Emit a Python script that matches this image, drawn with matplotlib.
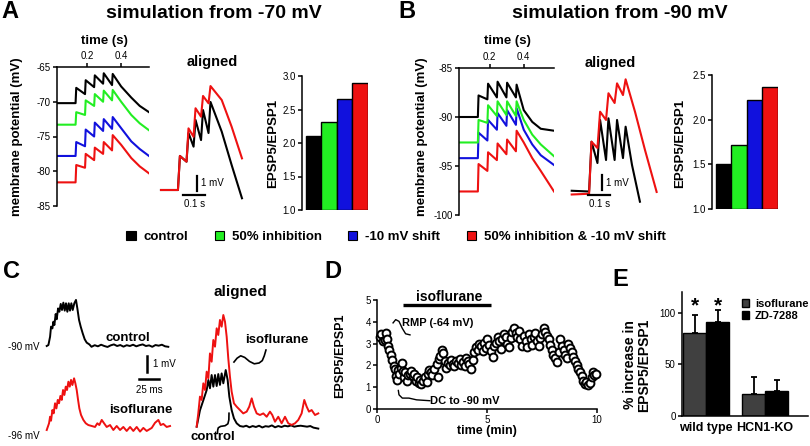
import numpy as np
import matplotlib
matplotlib.use('Agg')
import matplotlib.pyplot as plt
from matplotlib.patches import Patch

plt.rcParams['font.family'] = ['Liberation Sans', 'DejaVu Sans']
plt.rcParams['axes.linewidth'] = 1.1
plt.rcParams['xtick.major.width'] = 1.1
plt.rcParams['ytick.major.width'] = 1.1
plt.rcParams['xtick.major.size'] = 3
plt.rcParams['ytick.major.size'] = 3
plt.rcParams['xtick.labelsize'] = 7
plt.rcParams['ytick.labelsize'] = 7
plt.rcParams['xtick.major.pad'] = 1.5
plt.rcParams['ytick.major.pad'] = 1.5

# ---- data ----
conditions = ['control', '50% inhibition', '-10 mV shift', '50% inhibition & -10 mV shift']
cond_colors = ['#000000', '#22ee22', '#1111dd', '#ee1111']

# simulation from -70 mV (A): stimulus times (s), baseline, peaks, troughs, tail
sim_a_pulses = [0.13, 0.186, 0.24, 0.293, 0.346]
sim_a_base = [-70.2, -73.3, -77.8, -81.6]
sim_a_peaks = [[-68.0, -66.9, -66.2, -65.9, -66.0],
               [-71.5, -69.8, -68.9, -68.4, -68.3],
               [-75.8, -74.0, -73.0, -72.5, -72.2],
               [-79.1, -77.5, -76.6, -75.8, -74.8]]
sim_a_troughs = [[-68.9, -67.9, -67.4, -67.6],
                 [-71.9, -70.6, -70.0, -69.8],
                 [-76.4, -75.0, -74.2, -73.9],
                 [-79.5, -78.4, -77.5, -77.0]]
sim_a_tail_t = [0.40, 0.46, 0.51, 0.565]
sim_a_tails = [[-67.8, -69.4, -70.6, -71.5],
               [-70.0, -71.9, -73.1, -74.1],
               [-73.8, -75.7, -76.8, -77.8],
               [-76.2, -78.1, -79.3, -80.3]]

# simulation from -90 mV (B)
sim_b_pulses = [0.13, 0.186, 0.242, 0.298, 0.354]
sim_b_base = [-90.0, -92.6, -94.2, -97.6]
sim_b_peaks = [[-87.8, -86.6, -86.4, -86.5, -86.7],
               [-90.3, -88.8, -88.4, -88.4, -88.4],
               [-91.6, -90.3, -89.6, -89.3, -89.1],
               [-94.8, -93.6, -92.7, -92.3, -91.4]]
sim_b_troughs = [[-88.2, -88.0, -88.0, -88.0],
                 [-90.6, -89.9, -89.8, -89.9],
                 [-92.4, -91.3, -90.9, -90.8],
                 [-95.5, -94.4, -93.8, -93.5]]
sim_b_tail_t = [0.40, 0.45, 0.50, 0.578]
sim_b_tails = [[-89.3, -90.5, -91.2, -91.4],
               [-90.3, -91.8, -92.8, -94.0],
               [-91.3, -92.8, -93.9, -94.9],
               [-92.6, -94.2, -95.5, -97.6]]

# aligned traces (s, mV re baseline)
al_a_t = [0, 0.077, 0.086, 0.116, 0.125, 0.148, 0.157, 0.182, 0.191, 0.216, 0.225, 0.276, 0.321, 0.368]
al_a_ctrl = [0, 0, 2.27, 1.89, 3.8, 2.89, 4.67, 3.33, 5.33, 3.8, 5.87, 3.89, 1.67, -0.55]
al_a_both = [0, 0, 2.27, 1.89, 4.11, 3.55, 5.45, 4.89, 6.27, 5.78, 6.93, 6.0, 4.22, 2.11]
al_b_t_ctrl = [0, 0.079, 0.09, 0.117, 0.129, 0.156, 0.167, 0.195, 0.206, 0.233, 0.245, 0.274, 0.31]
al_b_ctrl = [0.15, 0.1, 3.42, 2.0, 4.87, 2.2, 4.98, 2.2, 4.87, 2.33, 4.42, 1.87, -0.58]
al_b_t_both = [0, 0.079, 0.09, 0.117, 0.129, 0.156, 0.167, 0.195, 0.206, 0.233, 0.245, 0.288, 0.333, 0.386]
al_b_both = [-0.1, -0.05, 3.42, 3.0, 5.42, 4.87, 6.65, 6.0, 7.31, 6.53, 7.58, 5.4, 2.87, 0.07]

ratio_a = [2.1, 2.32, 2.65, 2.9]
ratio_b = [1.5, 1.72, 2.22, 2.37]

# C: recorded traces (ms, mV re baseline)
c_ctrl = [(0, 0), (2.1, 0.06), (4.2, 0.58), (5.4, 1.21), (7.1, 1.1), (8.3, 1.52), (9.6, 1.31),
          (11.2, 2.0), (12.5, 1.67), (14.2, 2.35), (15.8, 2.14), (17.5, 2.63), (19.1, 2.25),
          (20.8, 2.71), (22.5, 2.21), (24.1, 2.67), (25.8, 2.14), (27.5, 2.67), (29.1, 2.21),
          (30.8, 2.67), (32.5, 2.25), (34.5, 2.67), (36.6, 2.88), (38.3, 2.35), (40.4, 1.63),
          (42.5, 1.21), (45, 0.79), (47.5, 0.42), (50, 0.21), (53.3, 0.1), (56, -0.05),
          (60, 0.05), (64, -0.02), (68, 0.08), (72, 0.0), (76, -0.06), (80, 0.04), (84, 0.1),
          (88, 0.0), (92, 0.06), (96, -0.04), (100, 0.05), (104, 0.0), (108, 0.08), (112, -0.02),
          (116, 0.05), (120, 0.1), (124, 0.0), (128, 0.04), (132, -0.05), (136, 0.06),
          (140, 0.02), (144, 0.08), (148, -0.02), (152, -0.05)]
c_iso = [(0, 0), (2.9, 0.42), (4.2, 0.83), (5.4, 0.58), (7.1, 1.25), (8.7, 1.04), (10.4, 1.67),
         (12.1, 1.35), (13.8, 1.88), (15.4, 1.67), (17.1, 2.13), (18.8, 1.88), (20.4, 2.5),
         (22.1, 2.19), (23.8, 2.71), (25.4, 2.5), (27.1, 3.02), (28.8, 2.71), (30.4, 3.13),
         (32.1, 2.81), (34.2, 3.23), (35.8, 2.92), (37.5, 2.5), (39.2, 1.88), (40.8, 1.35),
         (42.9, 0.94), (45.8, 0.63), (48.8, 0.42), (52, 0.31), (56.3, 0.25), (60.4, 0.19),
         (63.3, 0.42), (65.8, 0.31), (68.8, 0.63), (71.7, 0.42), (75, 0.19), (79.2, 0.31),
         (83.3, 0.0), (87.5, 0.25), (91.7, 0.0), (95.8, 0.19), (100, -0.06), (104.2, 0.19),
         (108.3, -0.06), (112.5, 0.19), (116.7, -0.1), (120.8, 0.13), (125, -0.06),
         (131.3, 0.13), (135.4, 0.45), (139.6, 0.63), (142.5, 0.31), (145.8, 0.38),
         (150, 0.19), (154.2, 0.25)]
c_al_iso = [(0, 0.02), (2.0, 0.85), (4.1, 1.9), (6.2, 1.69), (8.3, 2.73), (10.4, 2.31),
            (12.5, 3.46), (14.6, 3.04), (16.6, 4.6), (18.7, 4.08), (20.8, 5.44), (22.9, 5.02),
            (25, 6.17), (27, 5.75), (29.1, 6.69), (31.2, 6.27), (33.3, 7.0), (35.4, 6.58),
            (37.5, 5.64), (39.5, 4.29), (41.6, 3.14), (43.7, 2.21), (46.6, 1.48), (50, 1.27),
            (54.1, 1.06), (58.2, 0.85), (62.5, 0.96), (65.7, 1.27), (68.8, 1.79), (71.6, 1.27),
            (75, 0.85), (79.1, 0.75), (83.3, 0.85), (87.5, 0.64), (91.6, 0.96), (94.5, 0.75),
            (97.9, 0.33), (102, 0.64), (106.2, 0.23), (110.4, 0.64), (114.5, 0.23), (118.7, 0.13),
            (122.9, 0.23), (127, 0.44), (131.2, 0.85), (134.5, 1.69), (137.5, 1.27), (140.4, 0.96),
            (143.7, 1.06), (147.9, 0.75), (152, 0.85)]
c_al_ctrl = [(0, 0.02), (4.1, 1.04), (8.3, 1.67), (12.5, 2.31), (14.6, 2.94), (16.6, 2.42),
             (18.7, 3.25), (20.8, 2.52), (22.9, 3.25), (25, 2.56), (27, 3.31), (29.1, 2.63),
             (31.2, 3.35), (33.3, 2.73), (36.3, 3.56), (38.7, 2.94), (40.8, 1.9), (43.7, 1.06),
             (46.6, 0.54), (50, 0.23), (54.1, 0.06), (58.2, 0.02), (62, 0.08), (66, -0.02),
             (70, 0.06), (74, 0.0), (78, 0.08), (82, -0.03), (86, 0.05), (90, 0.02), (94, 0.1),
             (98, -0.02), (102, 0.06), (106, 0.0), (110, 0.08), (114, 0.04), (118, 0.1),
             (122, 0.02), (126, 0.06), (130, 0.08), (134, 0.05), (138, 0.02), (142, 0.06),
             (146, -0.04), (150, -0.08), (152, -0.1)]

# D: EPSP5/EPSP1 over time
d_time = [0.12, 0.2, 0.25, 0.35, 0.4, 0.45, 0.5, 0.55, 0.62, 0.7, 0.75, 0.8, 0.85, 0.9, 0.95,
          1.0, 1.08, 1.12, 1.18, 1.22, 1.28, 1.35, 1.42, 1.5, 1.55, 1.62, 1.7, 1.75, 1.82, 1.9,
          1.95, 2.02, 2.1, 2.18, 2.25, 2.3, 2.38, 2.45, 2.5, 2.6, 2.78, 2.72, 2.8, 2.88, 2.95,
          3.02, 3.1, 3.15, 3.22, 3.3, 3.38, 3.45, 3.52, 3.6, 3.68, 3.75, 3.82, 3.9, 3.98, 4.05,
          4.12, 4.2, 4.28, 4.35, 4.42, 4.5, 4.58, 4.65, 4.72, 4.8, 4.88, 4.95, 5.02, 5.1, 5.18,
          5.25, 5.32, 5.4, 5.48, 5.55, 5.62, 5.7, 5.78, 5.85, 5.92, 6.0, 6.08, 6.15, 6.22, 6.3,
          6.38, 6.45, 6.52, 6.6, 6.68, 6.75, 6.82, 6.9, 6.98, 7.05, 7.12, 7.2, 7.28, 7.35, 7.42,
          7.5, 7.58, 7.65, 7.72, 7.8, 7.88, 7.95, 8.02, 8.1, 8.18, 8.25, 8.32, 8.4, 8.48, 8.55,
          8.62, 8.7, 8.78, 8.85, 8.92, 9.0, 9.08, 9.15, 9.22, 9.3, 9.38, 9.45, 9.52, 9.6, 9.68,
          9.75, 9.82, 9.88, 9.95]
d_ratio = [3.3, 3.45, 3.1, 3.15, 3.5, 3.2, 2.9, 2.7, 2.5, 2.25, 1.95, 1.85, 1.5, 1.35, 1.8,
           1.6, 1.9, 2.1, 1.75, 1.45, 1.7, 1.3, 1.55, 1.6, 1.75, 1.5, 1.6, 1.3, 1.45, 1.2,
           1.35, 1.15, 1.3, 1.45, 1.25, 1.6, 1.8, 1.7, 1.55, 1.85, 1.45, 2.05, 2.3, 2.45, 2.7,
           2.55, 2.2, 1.9, 2.1, 2.0, 2.25, 2.05, 1.95, 2.2, 2.1, 2.3, 2.0, 2.15, 1.95, 2.35,
           2.2, 2.05, 1.85, 2.25, 2.6, 2.85, 2.7, 3.0, 2.9, 2.65, 3.05, 2.8, 3.2, 2.95, 2.65,
           2.4, 2.9, 3.05, 3.3, 3.1, 2.75, 3.2, 3.45, 3.3, 3.0, 2.85, 3.25, 3.55, 3.7, 3.5,
           3.3, 3.6, 3.2, 2.9, 3.35, 3.1, 2.85, 3.45, 3.2, 2.95, 3.3, 3.5, 3.1, 2.9, 3.25,
           3.45, 3.7, 3.55, 3.35, 3.2, 2.95, 2.7, 2.5, 2.35, 2.15, 2.6, 3.2, 2.9, 2.7, 2.5,
           2.35, 3.0, 2.8, 2.6, 2.4, 2.2, 2.0, 1.85, 1.7, 1.5, 1.3, 1.15, 1.25, 1.1, 1.2,
           1.45, 1.7, 1.55, 1.6]

# E: % increase in EPSP5/EPSP1
e_groups = ['wild type', 'HCN1-KO']
e_iso = [80, 21]
e_iso_err = [18, 17]
e_zd = [91, 24]
e_zd_err = [12, 11]

# ---- layout helpers (pixels of the 810x446 figure) ----
W, H = 810, 446
fig = plt.figure(figsize=(W / 100, H / 100), dpi=100)


def px_axes(x0, y0, x1, y1):
    return fig.add_axes([x0 / W, 1 - y1 / H, (x1 - x0) / W, (y1 - y0) / H])


def ftext(x, y, s, **kw):
    kw.setdefault('ha', 'center')
    kw.setdefault('va', 'center')
    return fig.text(x / W, 1 - y / H, s, **kw)


def sim_path(start, pulses, base, peaks, troughs, tail_t, tail_v, rise=0.004):
    t = [start, pulses[0]]
    v = [base, base]
    for i, p in enumerate(pulses):
        t.append(p + rise)
        v.append(peaks[i])
        if i < len(troughs):
            t.append(pulses[i + 1])
            v.append(troughs[i])
    return t + list(tail_t), v + list(tail_v)


def sim_panel(box, xlim, ylim, yticks, pulses, base, peaks, troughs, tail_t, tails):
    ax = px_axes(*box)
    for i in [0, 2, 1, 3]:
        t, v = sim_path(xlim[0], pulses, base[i], peaks[i], troughs[i], tail_t, tails[i])
        ax.plot(t, v, color=cond_colors[i], lw=1.5)
    ax.set_xlim(xlim)
    ax.set_ylim(ylim)
    ax.spines['bottom'].set_visible(False)
    ax.spines['right'].set_visible(False)
    ax.tick_params(axis='x', top=True, labeltop=True, bottom=False, labelbottom=False)
    ax.set_xticks([0.2, 0.4])
    ax.set_xticklabels(['0.2', '0.4'])
    ax.set_yticks(yticks)
    ax.set_yticklabels(['%d' % y for y in yticks])
    return ax


def aligned_panel(box, xlim, ylim, traces, bar_t, bar_v, bar_len_t):
    ax = px_axes(*box)
    for t, v, c in traces:
        ax.plot(t, v, color=c, lw=1.5)
    ax.set_xlim(xlim)
    ax.set_ylim(ylim)
    ax.axis('off')
    ax.plot([bar_t, bar_t], [bar_v + 0.2, bar_v + 1.2], color='black', lw=1.6, clip_on=False)
    ax.plot([bar_t - 0.5 * bar_len_t - 0.01, bar_t + 0.5 * bar_len_t - 0.01],
            [bar_v - 0.1, bar_v - 0.1], color='black', lw=1.6, clip_on=False)
    ax.text(bar_t + 0.02, bar_v + 0.7, '1 mV', fontsize=7, va='center', ha='left')
    ax.text(bar_t - 0.01, bar_v - 0.35, '0.1 s', fontsize=7, va='top', ha='center')
    return ax


def ratio_panel(box, vals, ylim, yticks):
    ax = px_axes(*box)
    ax.bar(np.arange(4), np.array(vals) - ylim[0], bottom=ylim[0], width=1.0,
           color=cond_colors, edgecolor='black', lw=1.0)
    ax.set_xlim(-0.75, 3.5)
    ax.set_ylim(ylim)
    for s in ['top', 'right', 'bottom']:
        ax.spines[s].set_visible(False)
    ax.set_xticks([])
    ax.set_yticks(yticks)
    ax.set_yticklabels(['%.1f' % y for y in yticks])
    return ax


# ---- A ----
ftext(10, 11, 'A', fontsize=17, fontweight='bold')
ftext(214, 13, 'simulation from -70 mV', fontsize=14, fontweight='bold')
sim_panel((57, 67, 149, 206), (0.02, 0.565), (-85, -65), [-85, -80, -75, -70, -65],
          sim_a_pulses, sim_a_base, sim_a_peaks, sim_a_troughs, sim_a_tail_t, sim_a_tails)
ftext(104, 41, 'time (s)', fontsize=9.5, fontweight='bold')
ftext(17, 137, 'membrane potential (mV)', fontsize=9.5, fontweight='bold', rotation=90)
ftext(212, 62, 'aligned', fontsize=10.5, fontweight='bold')
aligned_panel((158, 78, 250, 210), (-0.0136, 0.4045), (-1.333, 7.467),
              [(al_a_t, al_a_ctrl, cond_colors[0]), (al_a_t, al_a_both, cond_colors[3])],
              0.162, -0.25, 0.1)
ratio_panel((302, 76, 368, 210), ratio_a, (1.0, 3.0), [1.0, 1.5, 2.0, 2.5, 3.0])
ftext(273, 143, 'EPSP5/EPSP1', fontsize=9.5, fontweight='bold', rotation=90)

# ---- B ----
ftext(407, 11, 'B', fontsize=17, fontweight='bold')
ftext(620, 13, 'simulation from -90 mV', fontsize=14, fontweight='bold')
sim_panel((459, 68, 554, 215), (0.019, 0.578), (-100, -85), [-100, -95, -90, -85],
          sim_b_pulses, sim_b_base, sim_b_peaks, sim_b_troughs, sim_b_tail_t, sim_b_tails)
ftext(507, 41, 'time (s)', fontsize=9.5, fontweight='bold')
ftext(422, 137, 'membrane potential (mV)', fontsize=9.5, fontweight='bold', rotation=90)
ftext(610, 63, 'aligned', fontsize=10.5, fontweight='bold')
aligned_panel((565, 75, 665, 210), (-0.0305, 0.424), (-1.133, 7.867),
              [(al_b_t_ctrl, al_b_ctrl, cond_colors[0]), (al_b_t_both, al_b_both, cond_colors[3])],
              0.136, -0.02, 0.1)
ratio_panel((712, 75, 778, 209), ratio_b, (1.0, 2.5), [1.0, 1.5, 2.0, 2.5])
ftext(680, 143, 'EPSP5/EPSP1', fontsize=9.5, fontweight='bold', rotation=90)

# legend row
handles = [Patch(facecolor=c, edgecolor='black', lw=0.8) for c in cond_colors]
fig.legend(handles, conditions, loc='center', bbox_to_anchor=(396 / W, 1 - 237 / H), ncol=4,
           frameon=False, handlelength=0.7, handleheight=0.7, handletextpad=0.6,
           columnspacing=2.0, prop={'weight': 'bold', 'size': 9.5})

# ---- C ----
ftext(11, 271, 'C', fontsize=17, fontweight='bold')
c_gap = 5.25
axc = px_axes(40, 290, 185, 440)
ct, cv = zip(*c_ctrl)
it, iv = zip(*c_iso)
axc.plot(ct, cv, color='black', lw=1.4)
axc.plot(it, np.array(iv) - c_gap, color=cond_colors[3], lw=1.4)
axc.set_xlim(-8.4, 172.9)
axc.set_ylim(-5.875, 3.5)
axc.axis('off')
axc.plot([125.4, 125.4], [-0.625, -1.625], color='black', lw=1.8)
axc.plot([115.4, 140.4], [-2.06, -2.06], color='black', lw=1.8)
axc.text(132.5, -1.15, '1 mV', fontsize=7, ha='left', va='center')
axc.text(128, -2.75, '25 ms', fontsize=7, ha='center', va='center')
axc.text(101, 0.5, 'control', fontsize=9.5, fontweight='bold', ha='center', va='center')
axc.text(118, -4.0, 'isoflurane', fontsize=9.5, fontweight='bold', ha='center', va='center')
axc.text(-9, -0.06, '-90 mV', fontsize=7, ha='right', va='center', clip_on=False)
axc.text(-9, -5.6, '-96 mV', fontsize=7, ha='right', va='center', clip_on=False)

axa = px_axes(185, 285, 325, 445)
at, av = zip(*c_al_ctrl)
rt, rv = zip(*c_al_iso)
axa.plot(at, av, color='black', lw=1.4)
axa.plot(rt, rv, color=cond_colors[3], lw=1.4)
axa.set_xlim(-14.6, 160.4)
axa.set_ylim(-1.125, 8.875)
axa.axis('off')
axa.text(54, 8.44, 'aligned', fontsize=11, fontweight='bold', ha='center', va='center')
axa.text(100, 5.44, 'isoflurane', fontsize=9.5, fontweight='bold', ha='center', va='center')
axa.text(20.4, -0.62, 'control', fontsize=9.5, fontweight='bold', ha='center', va='center',
         clip_on=False)
axa.plot([46.6, 50.5, 55, 60, 66, 72, 78, 82, 84.5, 86.6],
         [4.06, 4.3, 4.45, 4.35, 4.1, 3.95, 4.0, 4.15, 4.45, 4.81], color='black', lw=1.2)
axa.plot([40.4, 40.2, 39.0, 35.5, 30.0, 27.0, 26.2, 26.0],
         [0.86, 0.45, 0.2, 0.08, 0.04, -0.05, -0.2, -0.39], color='black', lw=1.2)

# ---- D ----
ftext(333, 271, 'D', fontsize=17, fontweight='bold')
axd = px_axes(377, 300, 597, 409)
axd.scatter(d_time, d_ratio, s=32, facecolor='white', edgecolor='black', lw=1.4,
            clip_on=False, zorder=3)
axd.set_xlim(0, 10)
axd.set_ylim(0, 5)
axd.spines['top'].set_visible(False)
axd.spines['right'].set_visible(False)
axd.set_xticks([0, 5, 10])
axd.set_yticks([0, 1, 2, 3, 4, 5])
axd.plot([1.2, 5.2], [4.75, 4.75], color='black', lw=2.4, solid_capstyle='butt')
axd.text(3.27, 5.13, 'isoflurane', fontsize=10, fontweight='bold', ha='center', va='center',
         clip_on=False)
axd.text(1.14, 3.94, 'RMP (-64 mV)', fontsize=8, fontweight='bold', ha='left', va='center')
axd.text(2.41, 0.35, 'DC to -90 mV', fontsize=8, fontweight='bold', ha='left', va='center')
axd.plot([0.73, 0.85, 1.0, 1.15, 1.3, 1.5], [3.95, 4.1, 4.02, 3.7, 3.45, 3.4], color='black', lw=1.0)
axd.plot([0.97, 1.0, 1.15, 1.45, 1.8, 2.4], [0.85, 0.65, 0.5, 0.5, 0.42, 0.38], color='black', lw=1.0)
ftext(340, 356, 'EPSP5/EPSP1', fontsize=9, fontweight='bold', rotation=90)
ftext(487, 431, 'time (min)', fontsize=9, fontweight='bold')

# ---- E ----
ftext(620, 279, 'E', fontsize=17, fontweight='bold')
axe = px_axes(682, 292, 808, 416)
xe = np.arange(len(e_groups))
bw = 0.39
b1 = axe.bar(xe - bw / 2, e_iso, width=bw, color='#404040', edgecolor='black', lw=1.0)
b2 = axe.bar(xe + bw / 2, e_zd, width=bw, color='#000000', edgecolor='black', lw=1.0)
axe.errorbar(xe - bw / 2, e_iso, yerr=[np.zeros(2), e_iso_err], fmt='none', ecolor='black',
             elinewidth=1.3, capsize=2.5, capthick=1.3)
axe.errorbar(xe + bw / 2, e_zd, yerr=[np.zeros(2), e_zd_err], fmt='none', ecolor='black',
             elinewidth=1.3, capsize=2.5, capthick=1.3)
axe.set_xlim(-0.41, 1.73)
axe.set_ylim(0, 120)
axe.spines['top'].set_visible(False)
axe.spines['right'].set_visible(False)
axe.set_yticks([0, 50, 100])
axe.set_xticks(xe)
axe.set_xticklabels(e_groups, fontsize=9, fontweight='bold')
axe.tick_params(axis='x', length=0, pad=4)
for xs in [-bw / 2, bw / 2]:
    axe.text(xs, 107, '*', fontsize=15, fontweight='bold', ha='center', va='center')
axe.legend([b1, b2], ['isoflurane', 'ZD-7288'], loc='upper left',
           bbox_to_anchor=(736 / W, 1 - 293 / H), bbox_transform=fig.transFigure,
           frameon=False, handlelength=0.7, handleheight=0.7, handletextpad=0.5,
           labelspacing=0.2, borderpad=0, prop={'weight': 'bold', 'size': 8})
ftext(637, 365, '% increase in\nEPSP5/EPSP1', fontsize=10, fontweight='bold', rotation=90,
      linespacing=1.0)

fig.savefig('out.png', dpi=100)
